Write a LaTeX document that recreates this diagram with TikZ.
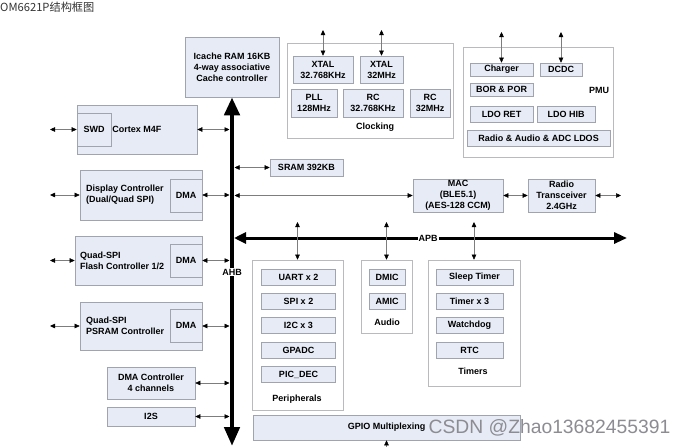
\documentclass[tikz,border=0pt]{standalone}
\usepackage{fontspec}
\setmainfont{Liberation Sans}
\newfontfamily\cjkfont{Noto Sans CJK SC}
\usetikzlibrary{arrows.meta}
\definecolor{boxfill}{RGB}{230,235,245}
\definecolor{boxline}{RGB}{160,164,174}
\definecolor{grpline}{RGB}{185,185,190}
\definecolor{linkgray}{RGB}{125,125,125}
\definecolor{marktext}{RGB}{140,140,146}

\begin{document}
\begin{tikzpicture}[x=1pt, y=-1pt,
  font=\fontsize{9}{11}\selectfont\bfseries,
  >={Triangle[length=5pt,width=4.5pt,color=black]},
  blk/.style={draw=boxline, fill=boxfill, line width=0.6pt, align=center, inner sep=0pt},
  grp/.style={draw=grpline, fill=white, line width=0.6pt, inner sep=0pt},
  sz/.style 2 args={minimum width=#1, minimum height=#2},
  txt/.style={inner sep=0pt, align=left},
  link/.style={draw=linkgray, line width=0.5pt, <->}]
  \useasboundingbox (0,0) rectangle (690,447);

  \node[txt, anchor=west, text=black!80, font=\cjkfont\mdseries\fontsize{11.2}{13}\selectfont] (title) at (0,7) {OM6621P结构框图};

  % bus side
  \node[blk, sz={94}{60}] (icache) at (232,67) {Icache RAM 16KB\\4-way associative\\Cache controller};
  \node[blk, sz={120}{49}] (cortex) at (137,129.5) {Cortex M4F};
  \node[blk, sz={34}{33}] (swd) at (94,129.5) {SWD};
  \node[blk, sz={122}{50}] (disp) at (141,195) {};
  \node[blk, sz={32}{33}] (dmaA) at (186,195.5) {DMA};
  \node[txt, anchor=west] (displbl) at (86,195) {Display Controller\\(Dual/Quad SPI)};
  \node[blk, sz={127}{49}] (flash) at (138.5,260.5) {};
  \node[blk, sz={32}{33}] (dmaB) at (186,260.5) {DMA};
  \node[txt, anchor=west] (flashlbl) at (80,260.5) {Quad-SPI\\Flash Controller 1/2};
  \node[blk, sz={122}{48}] (psram) at (141,326) {};
  \node[blk, sz={32}{33}] (dmaC) at (186,325.5) {DMA};
  \node[txt, anchor=west] (psramlbl) at (86,326) {Quad-SPI\\PSRAM Controller};
  \node[blk, sz={88}{32}] (dmac) at (151,383) {DMA Controller\\4 channels};
  \node[blk, sz={88}{19}] (i2s) at (151,416.5) {I2S};
  \node[blk, sz={73}{17}] (sram) at (306.5,167.5) {SRAM 392KB};
  \node[blk, sz={90}{33}] (mac) at (458,195.5) {MAC\\(BLE5.1)\\(AES-128 CCM)};
  \node[blk, sz={67}{33}] (radio) at (561.5,195.5) {Radio\\Transceiver\\2.4GHz};

  % clocking
  \node[grp, sz={166}{95}] (clk) at (370,90.5) {};
  \node[blk, sz={60}{27}] (xtalA) at (323,69.5) {XTAL\\32.768KHz};
  \node[blk, sz={43}{27}] (xtalB) at (381.5,69.5) {XTAL\\32MHz};
  \node[blk, sz={46}{28}] (pll) at (314,103) {PLL\\128MHz};
  \node[blk, sz={60}{28}] (rcA) at (373,103) {RC\\32.768KHz};
  \node[blk, sz={40}{28}] (rcB) at (430,103) {RC\\32MHz};
  \node[txt] (clklbl) at (375,127) {Clocking};

  % pmu
  \node[grp, sz={150}{110}] (pmu) at (538,102) {};
  \node[blk, sz={63}{13}] (charger) at (501.5,69.5) {Charger};
  \node[blk, sz={42}{13}] (dcdc) at (561,69.5) {DCDC};
  \node[blk, sz={63}{13}] (bor) at (501.5,89.5) {BOR \& POR};
  \node[txt] (pmulbl) at (599,90) {PMU};
  \node[blk, sz={63}{16}] (ldoret) at (501.5,114) {LDO RET};
  \node[blk, sz={58}{16}] (ldohib) at (566,114) {LDO HIB};
  \node[blk, sz={143}{16}] (ldos) at (538.5,138) {Radio \& Audio \& ADC LDOS};

  % apb side
  \node[grp, sz={91}{150}] (periph) at (297.5,335) {};
  \foreach \n/\y/\t in {uart/277/UART x 2, spi/301/SPI x 2, iic/325.5/I2C x 3, gpadc/350/GPADC, picdec/374.5/PIC\_DEC}
    \node[blk, sz={74}{16}] (\n) at (298.5,\y) {\t};
  \node[txt] (periphlbl) at (297,399) {Peripherals};
  \node[grp, sz={51}{73}] (audio) at (386.5,296.5) {};
  \node[blk, sz={36}{16}] (dmic) at (387,277) {DMIC};
  \node[blk, sz={36}{16}] (amic) at (387,301) {AMIC};
  \node[txt] (audiolbl) at (387,322) {Audio};
  \node[grp, sz={92}{126}] (timers) at (474,323) {};
  \node[blk, sz={77}{16}] (sleep) at (474.5,277) {Sleep Timer};
  \foreach \n/\y/\t in {tmr/301/Timer x 3, wdog/325.5/Watchdog, rtc/350/RTC}
    \node[blk, sz={67}{16}] (\n) at (469.5,\y) {\t};
  \node[txt] (timerslbl) at (473,371) {Timers};
  \node[blk, sz={267}{25}] (gpio) at (386.5,427.5) {GPIO Multiplexing};

  % buses
  \coordinate (ahbend) at (232,446);
  \draw[line width=4.5pt, {Triangle[length=18pt,width=15pt]}-{Triangle[length=19pt,width=15pt]}] (icache.south) -- (ahbend);
  \node[fill=white, inner xsep=1pt, inner ysep=0.5pt] (ahblbl) at (232,272) {AHB};
  \coordinate (apbL) at (234,238);
  \coordinate (apbR) at (627,238);
  \draw[line width=3pt, {Triangle[length=12pt,width=11pt]}-{Triangle[length=13pt,width=11pt]}] (apbL) -- (apbR);
  \node[fill=white, inner xsep=1pt, inner ysep=0.5pt] (apblbl) at (428,238) {APB};

  % connectors
  \coordinate (extL) at (50,0);
  \coordinate (ahbL) at (229.5,0);
  \coordinate (ahbR) at (234.5,0);
  \coordinate (radR) at (621,0);
  \foreach \n in {cortex, disp, flash, psram}
    \draw[link] (\n.west -| extL) -- (\n.west);
  \foreach \n in {cortex, disp, flash, psram, dmac, i2s}
    \draw[link] (\n.east) -- (\n.east -| ahbL);
  \draw[link] (ahbR |- sram.west) -- (sram.west);
  \draw[link] (ahbR |- mac.west) -- (mac.west);
  \draw[link] (mac.east) -- (radio.west);
  \draw[link] (radio.east) -- (radio.east -| radR);
  \foreach \n in {periph, audio, timers}
    \draw[link] (\n.north |- 0,222) -- (\n.north);
  \foreach \n in {xtalA, xtalB}
    \draw[link] (\n.north |- 0,30) -- (\n.north);
  \foreach \n in {charger, dcdc}
    \draw[link] (\n.north |- 0,32) -- (\n.north);
  \draw[link, ->] (gpio.south |- 0,447) -- (gpio.south);

  \node[txt, text=marktext, font=\mdseries\fontsize{19.3}{21}\selectfont] (mark) at (549.5,428) {CSDN @Zhao13682455391};
\end{tikzpicture}
\end{document}
